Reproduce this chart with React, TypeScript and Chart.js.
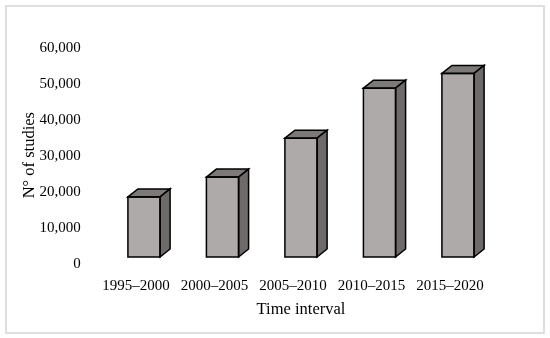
import React, { useEffect, useRef } from 'react';
import { Chart, registerables } from 'chart.js';

Chart.register(...registerables);

const categories: string[] = ['1995–2000', '2000–2005', '2005–2010', '2010–2015', '2015–2020'];
const studies: number[] = [16700, 22200, 33000, 46900, 51000];
const yMin = 0;
const yMax = 60000;
const yStep = 10000;
const xTitle = 'Time interval';
const yTitle = 'N° of studies';

const FRONT = '#aeaaaa';
const TOP = '#7d7979';
const SIDE = '#6e6a6a';
const DX = 10;
const DY = 8;

const bar3d = {
  id: 'bar3d',
  afterDatasetsDraw(chart: any) {
    const ctx = chart.ctx;
    const meta = chart.getDatasetMeta(0);
    meta.data.forEach((el: any) => {
      const { x, y, base, width } = el.getProps(['x', 'y', 'base', 'width'], true);
      const L = x - width / 2;
      const R = x + width / 2;
      ctx.save();
      ctx.lineWidth = 1.5;
      ctx.strokeStyle = '#000';
      ctx.lineJoin = 'miter';
      // top face
      ctx.beginPath();
      ctx.moveTo(L, y);
      ctx.lineTo(L + DX, y - DY);
      ctx.lineTo(R + DX, y - DY);
      ctx.lineTo(R, y);
      ctx.closePath();
      ctx.fillStyle = TOP;
      ctx.fill();
      ctx.stroke();
      // side face
      ctx.beginPath();
      ctx.moveTo(R, y);
      ctx.lineTo(R + DX, y - DY);
      ctx.lineTo(R + DX, base - DY);
      ctx.lineTo(R, base);
      ctx.closePath();
      ctx.fillStyle = SIDE;
      ctx.fill();
      ctx.stroke();
      // front outline
      ctx.strokeRect(L, y, width, base - y);
      ctx.restore();
    });
  },
};

export default function App() {
  const ref = useRef<HTMLCanvasElement | null>(null);

  useEffect(() => {
    if (!ref.current) return;
    const chart = new Chart(ref.current, {
      type: 'bar',
      data: {
        labels: categories,
        datasets: [
          {
            data: studies,
            backgroundColor: FRONT,
            borderColor: '#000',
            borderWidth: 0,
            barPercentage: 0.41,
            categoryPercentage: 1,
          },
        ],
      },
      options: {
        responsive: false,
        animation: false,
        locale: 'en-US',
        layout: { padding: { left: 0, right: 52.75, top: 41, bottom: 0 } },
        plugins: {
          legend: { display: false },
          tooltip: { enabled: false },
        },
        scales: {
          x: {
            grid: { display: false, drawTicks: false },
            border: { display: false },
            ticks: {
              color: '#000',
              font: { family: '"Liberation Serif", serif', size: 15 },
              padding: 20,
              labelOffset: -8,
              maxRotation: 0,
              autoSkip: false,
            },
            title: {
              display: true,
              text: xTitle,
              color: '#000',
              font: { family: '"Liberation Serif", serif', size: 16.5 },
              padding: { top: 0, bottom: 18 },
            },
            afterFit: (s: any) => {
              s.height = 81;
            },
          },
          y: {
            min: yMin,
            max: yMax,
            grid: { display: false, drawTicks: false },
            border: { display: false },
            ticks: {
              stepSize: yStep,
              color: '#000',
              font: { family: '"Liberation Serif", serif', size: 15 },
              padding: 24,
              labelOffset: 7,
            },
            title: {
              display: true,
              text: yTitle + '   ',
              color: '#000',
              font: { family: '"Liberation Serif", serif', size: 16.5 },
              padding: { top: 20, bottom: 0 },
            },
            afterFit: (s: any) => {
              s.width = 104.75;
            },
          },
        },
      },
      plugins: [bar3d],
    });
    return () => chart.destroy();
  }, []);

  return (
    <div style={{ position: 'fixed', left: 0, top: 0, width: 550, height: 338, background: '#fff' }}>
      <div
        style={{
          position: 'absolute',
          left: 5,
          top: 5,
          width: 540,
          height: 329,
          boxSizing: 'border-box',
          border: '2px solid #dedede',
        }}
      />
      <canvas ref={ref} width={550} height={338} style={{ position: 'absolute', left: 0, top: 0 }} />
    </div>
  );
}
